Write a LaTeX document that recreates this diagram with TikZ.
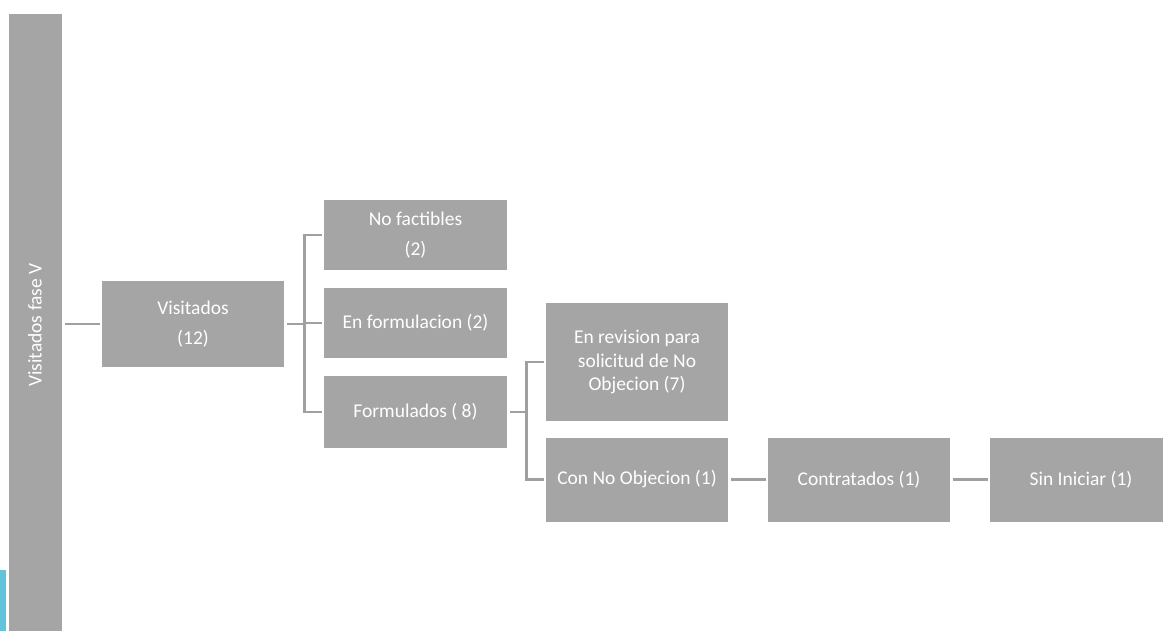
\documentclass[tikz,border=0pt]{standalone}
\usepackage{fontspec}
\setmainfont{Carlito}
\usepackage{xcolor}
\usepackage{tikz}
\definecolor{boxgray}{HTML}{A5A5A5}
\definecolor{linegray}{HTML}{A0A0A0}
\definecolor{tabcyan}{HTML}{62C3DB}

\begin{document}
\begin{tikzpicture}[x=1pt, y=-1pt]
			\tikzstyle{BoxStyle}  = [rectangle, fill = boxgray, text = white, align = center, inner sep = 2pt,
			                         minimum width = 182pt, font = \fontsize{19.5}{23.5}\selectfont]
			\tikzstyle{EdgeStyle} = [draw = linegray, line width = 2.6pt, shorten < = 3pt, shorten > = 2pt]
			\useasboundingbox (0,0) rectangle (1163,631);
			%\draw[help lines, step=50] (0,0) grid (1163,631);
			\fill[tabcyan] (-5,570) rectangle (6,640);
			\node[BoxStyle, rotate=90, minimum width=626pt, minimum height=53pt] (bar) at (35.5,327) {};
			\node[rotate=90, text=white, font=\fontsize{19.5}{23.5}\selectfont] (barlabel) at (35,325) {Visitados fase V};
			
			\node[BoxStyle, minimum height=86pt] (vis) at (193,324) {Visitados\\[7pt](12)};
			\node[BoxStyle, minimum height=70pt, minimum width=183pt] (nof) at (415.5,235) {No factibles\\[7pt](2)};
			\node[BoxStyle, minimum height=70pt, minimum width=183pt] (enf) at (415.5,323) {En formulacion (2)};
			\node[BoxStyle, minimum height=72pt, minimum width=183pt] (form) at (415.5,412) {Formulados ( 8)};
			\node[BoxStyle, minimum height=118pt] (rev) at (637,362) {En revision para\\solicitud de No\\Objecion (7)};
			\node[BoxStyle, minimum height=84pt] (con) at (637,479.5) {Con No Objecion (1)};
			\node[BoxStyle, minimum height=84pt] (cont) at (859,479.5) {Contratados (1)};
			\node[BoxStyle, minimum height=84pt] (sin) at (1081,479.5) {Sin Iniciar (1)};
			
			\draw[EdgeStyle] (bar.south |- vis.west) -- (vis.west);
			\draw[EdgeStyle] (vis.east) -- ++(20,0) |- (nof.west);
			\draw[EdgeStyle] (vis.east) -- ++(20,0) |- (enf.west);
			\draw[EdgeStyle] (vis.east) -- ++(20,0) |- (form.west);
			\draw[EdgeStyle] (form.east) -- ++(19,0) |- (rev.west);
			\draw[EdgeStyle] (form.east) -- ++(19,0) |- (con.west);
			\draw[EdgeStyle] (con) -- (cont);
			\draw[EdgeStyle] (cont) -- (sin);
			
		\end{tikzpicture}
\end{document}
